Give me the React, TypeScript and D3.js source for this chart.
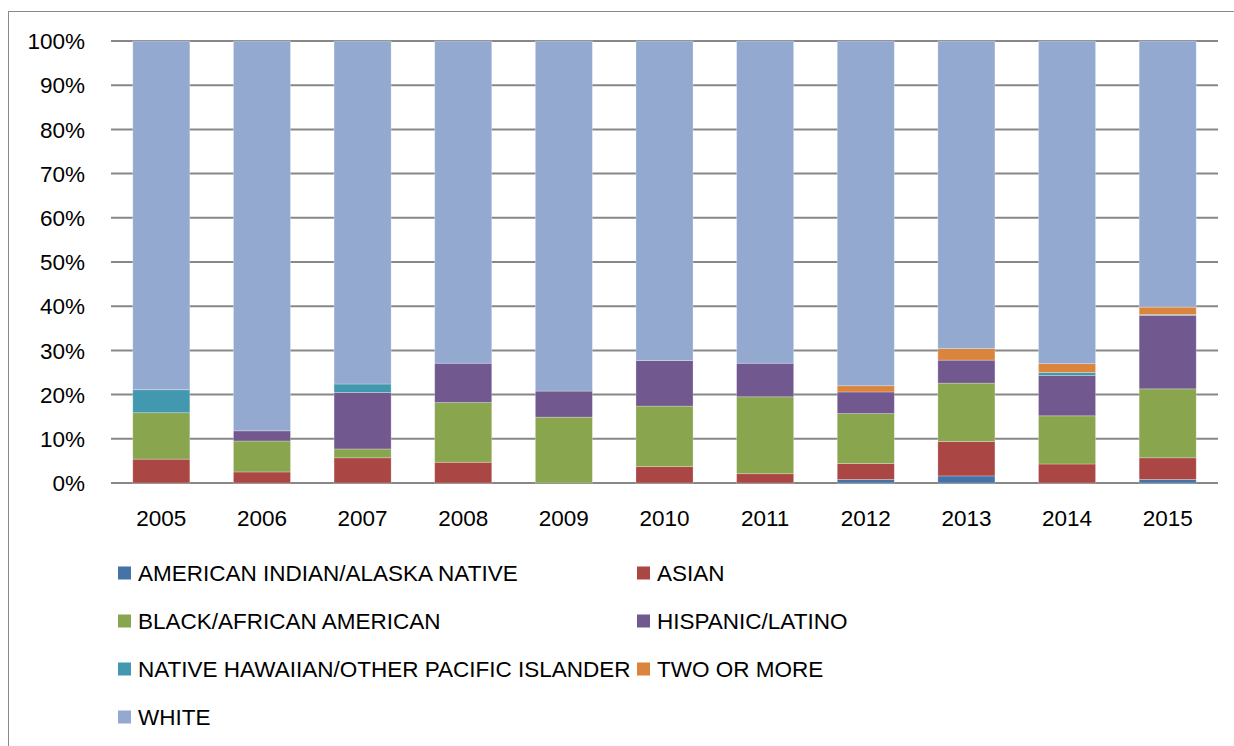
import React from "react";
import * as d3 from "d3";

const years = ["2005", "2006", "2007", "2008", "2009", "2010", "2011", "2012", "2013", "2014", "2015"];
const seriesNames = [
  "AMERICAN INDIAN/ALASKA NATIVE",
  "ASIAN",
  "BLACK/AFRICAN AMERICAN",
  "HISPANIC/LATINO",
  "NATIVE HAWAIIAN/OTHER PACIFIC ISLANDER",
  "TWO OR MORE",
  "WHITE",
];
const seriesColors = ["#4572A7", "#AA4643", "#89A54E", "#71588F", "#4198AF", "#DB843D", "#93A9CF"];

const americanIndian = [0, 0, 0, 0, 0, 0, 0, 0.8, 1.6, 0, 0.8];
const asian = [5.4, 2.5, 5.7, 4.7, 0, 3.7, 2.1, 3.6, 7.8, 4.3, 4.9];
const black = [10.5, 7.0, 2.0, 13.5, 14.9, 13.7, 17.4, 11.3, 13.2, 10.9, 15.6];
const hispanic = [0, 2.3, 12.8, 8.9, 5.9, 10.3, 7.6, 4.9, 5.2, 9.1, 16.6];
const nativeHawaiian = [5.2, 0, 1.9, 0, 0, 0, 0, 0, 0, 0.7, 0.2];
const twoOrMore = [0, 0, 0, 0, 0, 0, 0, 1.4, 2.6, 2.0, 1.7];
const white = [78.9, 88.2, 77.6, 72.9, 79.2, 72.3, 72.9, 78.0, 69.6, 73.0, 60.2];

const yTicks = [0, 10, 20, 30, 40, 50, 60, 70, 80, 90, 100];

const allSeries = [americanIndian, asian, black, hispanic, nativeHawaiian, twoOrMore, white];

export default function App() {
  const W = 1234;
  const H = 746;
  const left = 111;
  const right = 1218;
  const top = 41;
  const bottom = 483;
  const font = "'Liberation Sans', Arial, sans-serif";
  const fs = 22.5;

  const rows = years.map((y, i) => {
    const r: any = { year: y };
    seriesNames.forEach((s, k) => (r[s] = allSeries[k][i]));
    return r;
  });
  const stacked = d3.stack<any>().keys(seriesNames)(rows);

  const x = d3.scaleBand().domain(years).range([left, right]).paddingInner(0.433).paddingOuter(0.2165);
  const y = d3.scaleLinear().domain([0, 100]).range([bottom, top]);

  const legendItems = seriesNames.map((name, i) => ({
    name,
    color: seriesColors[i],
    col: i % 2,
    row: Math.floor(i / 2),
  }));
  const legendColX = [118, 637];
  const legendRowY = [573, 621, 669, 717];

  return (
    <svg
      width={W}
      height={H}
      style={{ position: "absolute", left: 0, top: 0, background: "#fff" }}
      fontFamily={font}
    >
      <rect x={0} y={0} width={W} height={H} fill="#fff" />
      <line x1={9} x2={W} y1={11.5} y2={11.5} stroke="#8a8a8a" strokeWidth={1} />
      <line x1={8.5} x2={8.5} y1={11} y2={H} stroke="#8a8a8a" strokeWidth={1} />

      {yTicks.map((t) => (
        <g key={t}>
          <line x1={left} x2={right} y1={y(t)} y2={y(t)} stroke="#878787" strokeWidth={2} />
          <text x={85} y={y(t)} dy="0.36em" textAnchor="end" fontSize={fs} fill="#000">
            {t}%
          </text>
        </g>
      ))}

      {stacked.map((layer, k) => (
        <g key={layer.key} fill={seriesColors[k]}>
          {layer.map((d, i) =>
            d[1] - d[0] > 0 ? (
              <rect
                key={i}
                x={x(years[i])!}
                width={x.bandwidth()}
                y={y(d[1])}
                height={y(d[0]) - y(d[1])}
                stroke="#ffffff"
                strokeOpacity={0.35}
                strokeWidth={0.75}
              />
            ) : null
          )}
        </g>
      ))}

      {years.map((yr) => (
        <text
          key={yr}
          x={x(yr)! + x.bandwidth() / 2}
          y={518}
          dy="0.36em"
          textAnchor="middle"
          fontSize={fs}
          fill="#000"
        >
          {yr}
        </text>
      ))}

      {legendItems.map((it) => (
        <g key={it.name}>
          <rect
            x={legendColX[it.col]}
            y={legendRowY[it.row] - 6.5}
            width={13}
            height={13}
            fill={it.color}
          />
          <text
            x={legendColX[it.col] + 20}
            y={legendRowY[it.row]}
            dy="0.36em"
            fontSize={fs}
            fill="#000"
          >
            {it.name}
          </text>
        </g>
      ))}
    </svg>
  );
}
